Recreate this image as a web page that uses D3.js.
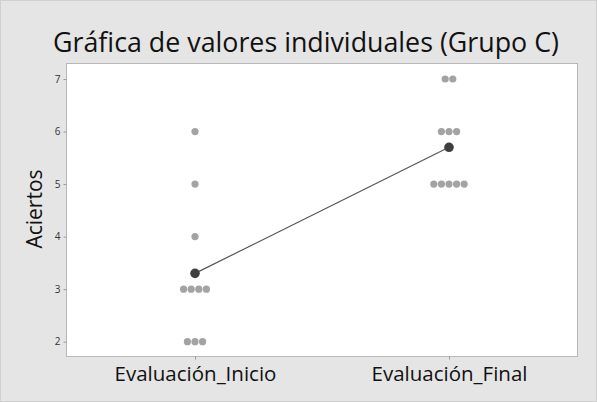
<!DOCTYPE html>
<html>
<head>
<meta charset="utf-8">
<script src="https://cdn.jsdelivr.net/npm/d3@7"></script>
<style>
  html, body { margin: 0; padding: 0; background: #e5e5e5; }
  svg { display: block; }
</style>
</head>
<body>
<svg id="chart" width="597" height="402"></svg>
<script>
// Individual scores per evaluation
const groups = ["Evaluación_Inicio", "Evaluación_Final"];
const inicio = [2, 2, 2, 3, 3, 3, 3, 4, 5, 6];
const final = [5, 5, 5, 5, 5, 6, 6, 6, 7, 7];
const yTicks = [2, 3, 4, 5, 6, 7];

const W = 597, H = 402;
const plot = { left: 66, right: 577, top: 63, bottom: 356 };
const svg = d3.select("#chart");

svg.append("rect").attr("x", 0.5).attr("y", 0.5).attr("width", W - 1).attr("height", H - 1)
  .attr("fill", "#e5e5e5").attr("stroke", "#d0d0d0");

const x = d3.scalePoint().domain(groups).range([195, 449]);
const y = d3.scaleLinear().domain([1.727, 7.305]).range([plot.bottom, plot.top]);

svg.append("rect")
  .attr("x", plot.left + 0.5).attr("y", plot.top + 0.5)
  .attr("width", plot.right - plot.left).attr("height", plot.bottom - plot.top)
  .attr("fill", "#ffffff").attr("stroke", "#b8b8b8");

// Axes
const yAxis = svg.append("g").attr("transform", `translate(${plot.left + 0.5},0)`)
  .call(d3.axisLeft(y).tickValues(yTicks).tickFormat(d3.format("d")).tickSize(3).tickPadding(3));
yAxis.select(".domain").remove();
yAxis.selectAll(".tick line").attr("stroke", "#9a9a9a");
yAxis.selectAll(".tick text").attr("fill", "#333").style("font-family", "'Open Sans', sans-serif").style("font-size", "10px");

const xAxis = svg.append("g").attr("transform", `translate(0,${plot.bottom + 0.5})`)
  .call(d3.axisBottom(x).tickSize(3).tickPadding(4));
xAxis.select(".domain").remove();
xAxis.selectAll(".tick line").attr("stroke", "#9a9a9a");
xAxis.selectAll(".tick text").attr("fill", "#111").attr("dy", "0.85em")
  .style("font-family", "'Open Sans', sans-serif").style("font-size", "20.5px");

// Stack equal values side by side around the group position
const spacing = 7.6;
function dotPositions(values, group) {
  const counts = d3.rollup(values, v => v.length, d => d);
  const pts = [];
  counts.forEach((n, v) => {
    for (let i = 0; i < n; i++) {
      pts.push({ cx: x(group) + (i - (n - 1) / 2) * spacing, cy: y(v) });
    }
  });
  return pts;
}

const series = [inicio, final];
const means = series.map((s, i) => ({ g: groups[i], m: d3.mean(s) }));

svg.append("path")
  .datum(means)
  .attr("fill", "none").attr("stroke", "#555").attr("stroke-width", 1.2)
  .attr("d", d3.line().x(d => x(d.g)).y(d => y(d.m)));

series.forEach((s, i) => {
  svg.append("g").selectAll("circle").data(dotPositions(s, groups[i])).join("circle")
    .attr("cx", d => d.cx).attr("cy", d => d.cy).attr("r", 3.6).attr("fill", "#a3a3a3");
});

svg.append("g").selectAll("circle").data(means).join("circle")
  .attr("cx", d => x(d.g)).attr("cy", d => y(d.m)).attr("r", 4.8).attr("fill", "#3f3f3f");

// Titles
svg.append("text").attr("x", 306).attr("y", 52).attr("text-anchor", "middle")
  .style("font-family", "'Open Sans', sans-serif").style("font-size", "26.8px").attr("fill", "#111")
  .text("Gráfica de valores individuales (Grupo C)");

svg.append("text").attr("transform", `translate(42,209) rotate(-90)`)
  .attr("text-anchor", "middle")
  .style("font-family", "'Open Sans', sans-serif").style("font-size", "21px").attr("fill", "#111")
  .text("Aciertos");
</script>
</body>
</html>
